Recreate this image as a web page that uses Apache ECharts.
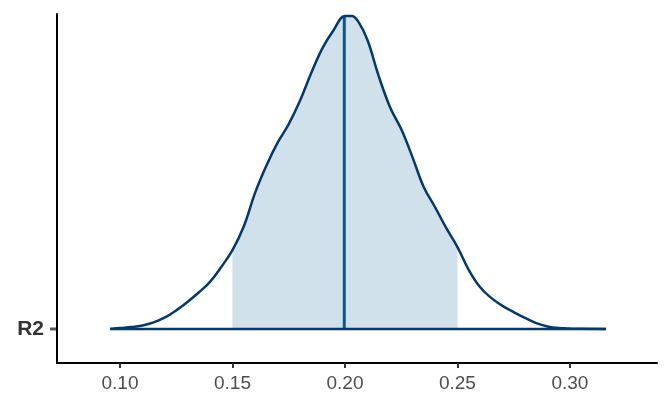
<!DOCTYPE html>
<html>
<head>
<meta charset="utf-8">
<script src="https://cdn.jsdelivr.net/npm/echarts@6/dist/echarts.min.js"></script>
<style>
html,body{margin:0;padding:0;background:#fff;}
#chart{width:672px;height:415px;}
</style>
</head>
<body>
<div id="chart"></div>
<script>
// Parameter name (y category)
const paramLabels = ['R2'];
// x tick labels
const xTicks = [0.10, 0.15, 0.20, 0.25, 0.30];
// Density curve of R2 (value, density)
const r2Values  = [0.0956, 0.1000, 0.1050, 0.1100, 0.1150, 0.1200, 0.1250, 0.1300, 0.1350, 0.1400, 0.1450, 0.1500, 0.1550, 0.1600, 0.1650, 0.1700, 0.1750, 0.1800, 0.1850, 0.1900, 0.1950, 0.2000, 0.2030, 0.2060, 0.2100, 0.2150, 0.2200, 0.2250, 0.2300, 0.2350, 0.2400, 0.2450, 0.2500, 0.2550, 0.2600, 0.2650, 0.2700, 0.2750, 0.2800, 0.2850, 0.2900, 0.2950, 0.3000, 0.3160];
const r2Density = [0.00,   0.04,   0.08,   0.15,   0.28,   0.49,   0.79,   1.15,   1.55,   2.00,   2.63,   3.35,   4.35,   5.77,   6.92,   7.90,   8.70,   9.69,   10.87,  11.93,  12.70,  13.29,  13.29,  13.04,  12.27,  10.74,  9.43,   8.49,   7.30,   6.03,   5.18,   4.29,   3.48,   2.51,   1.78,   1.32,   0.98,   0.72,   0.47,   0.25,   0.11,   0.04,   0.02,   0.00];
// Inner interval (50%) bounds and median
const innerInterval = [0.15, 0.25];
const medianValue = 0.1997;
const medianDensity = 13.27;
const xMin = 0.072, xMax = 0.3387;

const curve = r2Values.map((v, i) => [v, r2Density[i]]);
const inner = curve.filter(p => p[0] >= innerInterval[0] - 1e-9 && p[0] <= innerInterval[1] + 1e-9);
const baseline = [[r2Values[0], 0], [r2Values[r2Values.length - 1], 0]];

const chart = echarts.init(document.getElementById('chart'), null, {renderer: 'canvas'});
chart.setOption({
  animation: false,
  backgroundColor: '#ffffff',
  grid: {left: 57, right: 15, top: 14, bottom: 52, containLabel: false},
  xAxis: {
    type: 'value',
    min: xMin, max: xMax,
    splitLine: {show: false},
    axisLine: {show: true, onZero: false, lineStyle: {color: '#000', width: 2}},
    axisTick: {show: true, customValues: xTicks, length: 5, lineStyle: {color: '#333', width: 2}},
    axisLabel: {
      customValues: xTicks,
      formatter: v => Number(v).toFixed(2),
      fontFamily: 'Liberation Sans, Arial, sans-serif',
      fontSize: 19, color: '#4d4d4d', margin: 11
    }
  },
  yAxis: {
    type: 'value',
    min: -1.444, max: 13.376,
    splitLine: {show: false},
    axisLine: {show: true, onZero: false, lineStyle: {color: '#000', width: 2}},
    axisTick: {show: false},
    axisLabel: {
      customValues: [0],
      formatter: () => paramLabels[0],
      fontFamily: 'Liberation Sans, Arial, sans-serif',
      fontWeight: 'bold',
      fontSize: 21, color: '#333333', margin: 13
    }
  },
  series: [
    {
      type: 'line', data: inner, smooth: 0.4, symbol: 'none',
      lineStyle: {width: 0, opacity: 0},
      areaStyle: {color: '#d1e1ec', opacity: 1, origin: 'auto'},
      z: 1
    },
    {
      type: 'line', data: [[medianValue, 0], [medianValue, medianDensity]], symbol: 'none',
      lineStyle: {color: '#005b96', width: 3},
      z: 2
    },
    {
      type: 'line', data: curve, smooth: 0.4, symbol: 'none',
      lineStyle: {color: '#03396c', width: 2.5},
      z: 3
    },
    {
      type: 'line', data: baseline, symbol: 'none',
      lineStyle: {color: '#03396c', width: 2.5},
      z: 3
    },
    {
      // y-axis tick mark for the "R2" row, placed at the axis through its scale
      type: 'scatter', data: [[xMin, 0]], clip: false, silent: true,
      symbol: 'rect', symbolSize: [6, 3], symbolOffset: [-4, 0],
      itemStyle: {color: '#333333'},
      z: 4
    }
  ]
});
</script>
</body>
</html>
